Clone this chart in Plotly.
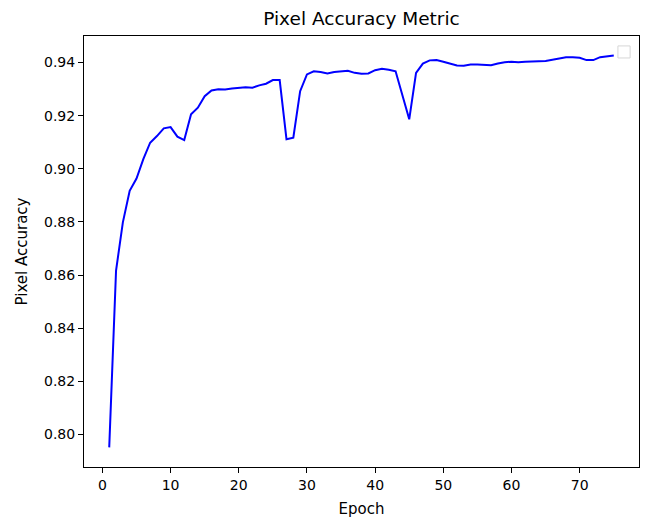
import plotly.graph_objects as go

# Per-epoch pixel accuracy of the training run
epochs = list(range(1, 76))
pixel_accuracy = [
    0.7951, 0.8617, 0.8798, 0.8917, 0.8963, 0.9036, 0.9098, 0.9123, 0.9152, 0.9157,
    0.9121, 0.9108, 0.9205, 0.9230, 0.9273, 0.9295, 0.9299, 0.9298, 0.9302, 0.9305,
    0.9307, 0.9305, 0.9314, 0.9320, 0.9334, 0.9334, 0.9111, 0.9117, 0.9292, 0.9355,
    0.9367, 0.9364, 0.9359, 0.9364, 0.9367, 0.9369, 0.9361, 0.9358, 0.9359, 0.9371,
    0.9376, 0.9373, 0.9367, 0.9273, 0.9186, 0.9361, 0.9396, 0.9408, 0.9409, 0.9403,
    0.9395, 0.9389, 0.9388, 0.9392, 0.9392, 0.9390, 0.9390, 0.9396, 0.9401, 0.9403,
    0.9401, 0.9403, 0.9405, 0.9405, 0.9406, 0.9411, 0.9415, 0.9420, 0.9420, 0.9418,
    0.9409, 0.9409, 0.9420, 0.9424, 0.9426,
]
x_ticks = [0, 10, 20, 30, 40, 50, 60, 70]
y_ticks = [0.80, 0.82, 0.84, 0.86, 0.88, 0.90, 0.92, 0.94]

FONT = "DejaVu Sans"

fig = go.Figure()
fig.add_trace(go.Scatter(
    x=epochs, y=pixel_accuracy, mode="lines",
    line=dict(color="#0000ff", width=2),
    showlegend=False,
))

# matplotlib-style 5% data margins
xspan = max(epochs) - min(epochs)
yspan = max(pixel_accuracy) - min(pixel_accuracy)
xr = [min(epochs) - 0.05 * xspan, max(epochs) + 0.05 * xspan]
yr = [min(pixel_accuracy) - 0.05 * yspan, max(pixel_accuracy) + 0.05 * yspan]

axis_common = dict(
    showgrid=False, zeroline=False, showline=True, mirror=True,
    linecolor="black", linewidth=1, ticks="outside", ticklen=5,
    tickwidth=1, tickcolor="black",
    tickfont=dict(family=FONT, size=14, color="black"),
)

fig.update_layout(
    width=648, height=522,
    margin=dict(l=84, r=9, t=36, b=55),
    paper_bgcolor="white", plot_bgcolor="white",
    font=dict(family=FONT, color="black"),
    title=dict(
        text="Pixel Accuracy Metric", x=0.5, xref="paper",
        y=1 - 19 / 522, yref="container", yanchor="middle", xanchor="center",
        font=dict(family=FONT, size=18.5, color="black"),
    ),
    xaxis=dict(
        range=xr, tickvals=x_ticks, ticktext=[str(t) for t in x_ticks],
        title=dict(text="Epoch", font=dict(family=FONT, size=15), standoff=11),
        **axis_common,
    ),
    yaxis=dict(
        range=yr, tickvals=y_ticks, ticktext=[f"{t:.2f}" for t in y_ticks],
        title=dict(text="Pixel Accuracy", font=dict(family=FONT, size=15), standoff=12),
        **axis_common,
    ),
)

# empty legend frame in the upper right corner
fig.add_shape(
    type="rect", xref="paper", yref="paper",
    x0=0.962, x1=0.984, y0=0.949, y1=0.977,
    line=dict(color="#d6d6d6", width=1), fillcolor="white",
)

fig.write_html("out.html")
